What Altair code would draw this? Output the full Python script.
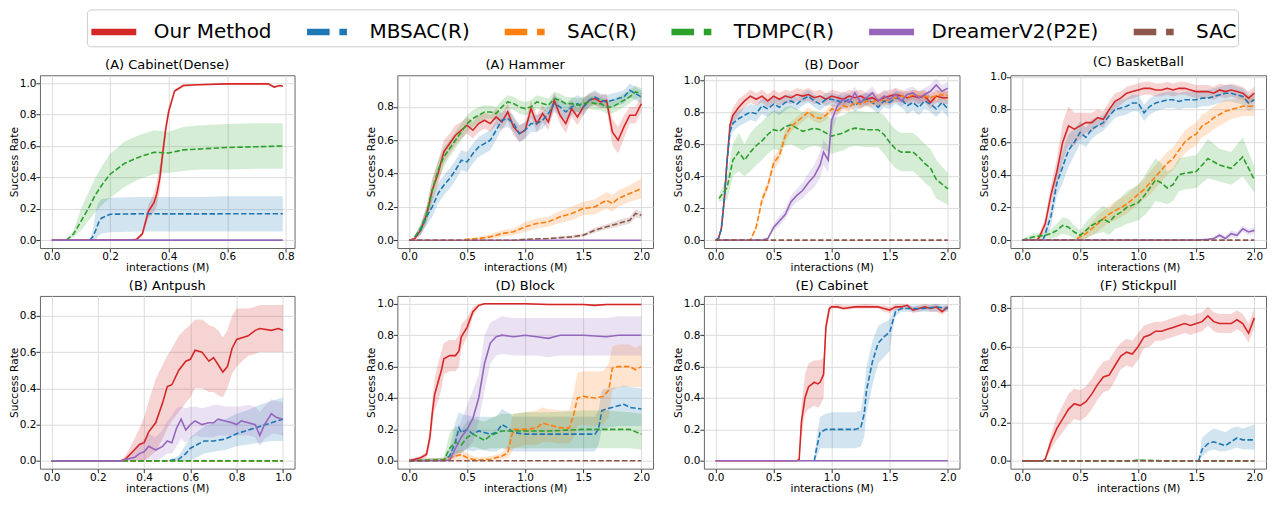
import altair as alt
import pandas as pd

SERIES = ["Our Method", "MBSAC(R)", "SAC(R)", "TDMPC(R)", "DreamerV2(P2E)", "SAC"]
COLORS = ["#d62728", "#1f77b4", "#ff7f0e", "#2ca02c", "#9467bd", "#8c564b"]
DASHED = ["MBSAC(R)", "SAC(R)", "TDMPC(R)", "SAC"]
SOLID_GLYPH = "M-1,0H1.5"
DASH_GLYPH = "M-1,0H0.256M0.8,0H1.222"
GLYPHS = [SOLID_GLYPH, DASH_GLYPH, DASH_GLYPH, DASH_GLYPH, SOLID_GLYPH, DASH_GLYPH]

TICKS_08 = [0.0, 0.2, 0.4, 0.6, 0.8]
TICKS_10 = [0.0, 0.2, 0.4, 0.6, 0.8, 1.0]
TICKS_20 = [0.0, 0.5, 1.0, 1.5, 2.0]

# ---- (A) Cabinet(Dense) : points are [x, mean, spread] or [x, mean, low, high]
CABD_OURS = [[0, 0, 0], [0.27, 0, 0], [0.29, 0.005, 0.005], [0.31, 0.04, 0.02], [0.33, 0.18, 0.04],
             [0.35, 0.24, 0.06], [0.36, 0.30, 0.08], [0.37, 0.40, 0.08], [0.38, 0.56, 0.06],
             [0.39, 0.71, 0.04], [0.40, 0.82, 0.03], [0.42, 0.95, 0.01], [0.45, 0.985, 0.01],
             [0.5, 0.99, 0.005], [0.6, 0.995, 0.005], [0.7, 0.995, 0.005], [0.74, 0.995, 0.005],
             [0.76, 0.975, 0.005], [0.78, 0.985, 0.005], [0.79, 0.98, 0.005]]
CABD_MBSAC = [[0.13, 0, 0, 0], [0.14, 0.02, 0.0, 0.06], [0.15, 0.06, 0.0, 0.18], [0.16, 0.11, 0.03, 0.24],
              [0.17, 0.14, 0.04, 0.26], [0.2, 0.165, 0.05, 0.27], [0.3, 0.168, 0.055, 0.275],
              [0.5, 0.167, 0.055, 0.275], [0.6, 0.168, 0.055, 0.28], [0.79, 0.168, 0.055, 0.28]]
CABD_TDMPC = [[0.05, 0.0, 0.0, 0.0], [0.075, 0.04, 0.02, 0.06], [0.1, 0.12, 0.06, 0.2], [0.125, 0.2, 0.12, 0.3],
              [0.15, 0.29, 0.18, 0.4], [0.175, 0.36, 0.23, 0.48], [0.2, 0.42, 0.27, 0.55],
              [0.25, 0.49, 0.34, 0.63], [0.3, 0.53, 0.39, 0.67], [0.35, 0.56, 0.42, 0.70],
              [0.4, 0.555, 0.43, 0.69], [0.45, 0.575, 0.44, 0.72], [0.5, 0.58, 0.45, 0.73],
              [0.6, 0.59, 0.45, 0.74], [0.7, 0.595, 0.455, 0.745], [0.79, 0.60, 0.455, 0.745]]
CABD_DREAMER = [[0, 0, 0], [0.79, 0, 0]]

# ---- (A) Hammer
HAM_OURS = [[0, 0, 0], [0.05, 0.01, 0.01], [0.1, 0.06, 0.03], [0.15, 0.15, 0.05], [0.2, 0.30, 0.07],
            [0.25, 0.40, 0.07], [0.3, 0.53, 0.07], [0.35, 0.58, 0.06], [0.4, 0.63, 0.06], [0.45, 0.66, 0.05],
            [0.5, 0.69, 0.05], [0.55, 0.66, 0.05], [0.6, 0.70, 0.05], [0.65, 0.72, 0.05], [0.7, 0.70, 0.05],
            [0.75, 0.74, 0.05], [0.8, 0.71, 0.05], [0.85, 0.77, 0.05], [0.9, 0.68, 0.05], [0.95, 0.64, 0.05],
            [1.0, 0.66, 0.05], [1.05, 0.79, 0.05], [1.1, 0.70, 0.05], [1.15, 0.76, 0.05], [1.2, 0.71, 0.05],
            [1.25, 0.84, 0.05], [1.3, 0.75, 0.05], [1.35, 0.70, 0.06], [1.4, 0.79, 0.05], [1.45, 0.74, 0.05],
            [1.5, 0.80, 0.05], [1.55, 0.84, 0.04], [1.6, 0.85, 0.04], [1.65, 0.83, 0.04], [1.7, 0.84, 0.04],
            [1.75, 0.65, 0.08], [1.8, 0.60, 0.08], [1.85, 0.68, 0.07], [1.9, 0.75, 0.05], [1.95, 0.75, 0.05],
            [2.0, 0.82, 0.05]]
HAM_MBSAC = [[0.05, 0.02, 0.01], [0.1, 0.06, 0.03], [0.15, 0.14, 0.05], [0.2, 0.20, 0.06], [0.25, 0.28, 0.06],
             [0.3, 0.33, 0.06], [0.35, 0.37, 0.06], [0.4, 0.42, 0.06], [0.45, 0.48, 0.06], [0.5, 0.47, 0.06],
             [0.55, 0.52, 0.06], [0.6, 0.56, 0.06], [0.65, 0.58, 0.06], [0.7, 0.60, 0.06], [0.75, 0.66, 0.06],
             [0.8, 0.72, 0.05], [0.85, 0.73, 0.05], [0.9, 0.70, 0.05], [0.95, 0.64, 0.05], [1.0, 0.66, 0.05],
             [1.05, 0.70, 0.05], [1.1, 0.70, 0.05], [1.15, 0.72, 0.05], [1.2, 0.76, 0.05], [1.25, 0.82, 0.05],
             [1.3, 0.80, 0.05], [1.35, 0.77, 0.05], [1.4, 0.80, 0.05], [1.45, 0.82, 0.05], [1.5, 0.80, 0.05],
             [1.55, 0.84, 0.04], [1.6, 0.86, 0.04], [1.65, 0.84, 0.04], [1.7, 0.83, 0.04], [1.75, 0.84, 0.04],
             [1.8, 0.85, 0.04], [1.85, 0.86, 0.04], [1.9, 0.90, 0.04], [1.95, 0.88, 0.04], [2.0, 0.86, 0.04]]
HAM_SACR = [[0, 0, 0], [0.45, 0, 0], [0.5, 0.005, 0.005], [0.6, 0.01, 0.01], [0.7, 0.02, 0.015],
            [0.8, 0.04, 0.02], [0.9, 0.05, 0.02], [1.0, 0.08, 0.03], [1.1, 0.10, 0.03], [1.2, 0.11, 0.03],
            [1.3, 0.14, 0.035], [1.4, 0.16, 0.04], [1.5, 0.19, 0.04], [1.6, 0.20, 0.045], [1.7, 0.24, 0.05],
            [1.75, 0.22, 0.05], [1.8, 0.25, 0.05], [1.9, 0.28, 0.05], [2.0, 0.31, 0.06]]
HAM_TDMPC = [[0.05, 0.02, 0.01], [0.1, 0.07, 0.03], [0.15, 0.15, 0.05], [0.2, 0.30, 0.06], [0.25, 0.42, 0.06],
             [0.3, 0.50, 0.06], [0.35, 0.55, 0.05], [0.4, 0.60, 0.05], [0.45, 0.65, 0.05], [0.5, 0.70, 0.05],
             [0.55, 0.73, 0.05], [0.6, 0.75, 0.05], [0.65, 0.77, 0.04], [0.7, 0.77, 0.04], [0.75, 0.76, 0.04],
             [0.8, 0.80, 0.04], [0.85, 0.83, 0.04], [0.9, 0.82, 0.04], [0.95, 0.80, 0.04], [1.0, 0.79, 0.04],
             [1.05, 0.80, 0.04], [1.1, 0.83, 0.04], [1.15, 0.82, 0.04], [1.2, 0.81, 0.04], [1.25, 0.85, 0.04],
             [1.3, 0.84, 0.04], [1.35, 0.82, 0.04], [1.4, 0.82, 0.04], [1.45, 0.81, 0.04], [1.5, 0.82, 0.04],
             [1.55, 0.83, 0.04], [1.6, 0.82, 0.04], [1.65, 0.82, 0.04], [1.7, 0.80, 0.04], [1.75, 0.80, 0.04],
             [1.8, 0.82, 0.04], [1.85, 0.84, 0.04], [1.9, 0.86, 0.04], [1.95, 0.89, 0.04], [2.0, 0.88, 0.03]]
HAM_DREAMER = [[0, 0, 0], [2.0, 0, 0]]
HAM_SAC = [[0, 0, 0], [0.9, 0, 0], [1.0, 0.005, 0.003], [1.2, 0.01, 0.005], [1.4, 0.02, 0.01],
           [1.5, 0.03, 0.01], [1.6, 0.06, 0.015], [1.7, 0.08, 0.015], [1.8, 0.10, 0.02], [1.9, 0.12, 0.02],
           [1.95, 0.16, 0.025], [2.0, 0.15, 0.02]]

# ---- (B) Door
DOOR_OURS = [[0, 0, 0], [0.025, 0.01, 0.01], [0.05, 0.07, 0.02], [0.075, 0.25, 0.04], [0.1, 0.50, 0.05],
             [0.125, 0.72, 0.05], [0.15, 0.78, 0.05], [0.2, 0.83, 0.05], [0.25, 0.87, 0.04], [0.3, 0.90, 0.04],
             [0.35, 0.88, 0.04], [0.4, 0.90, 0.04], [0.45, 0.87, 0.04], [0.5, 0.90, 0.04], [0.55, 0.88, 0.04],
             [0.6, 0.90, 0.04], [0.65, 0.89, 0.04], [0.7, 0.91, 0.04], [0.75, 0.90, 0.04], [0.8, 0.91, 0.04],
             [0.85, 0.89, 0.04], [0.9, 0.90, 0.04], [0.95, 0.88, 0.04], [1.0, 0.90, 0.04], [1.05, 0.89, 0.04],
             [1.1, 0.88, 0.04], [1.15, 0.90, 0.04], [1.2, 0.89, 0.04], [1.25, 0.90, 0.04], [1.3, 0.88, 0.04],
             [1.35, 0.89, 0.04], [1.4, 0.87, 0.04], [1.45, 0.89, 0.04], [1.5, 0.90, 0.04], [1.55, 0.91, 0.04],
             [1.6, 0.90, 0.04], [1.65, 0.89, 0.04], [1.7, 0.90, 0.04], [1.75, 0.89, 0.04], [1.8, 0.90, 0.04],
             [1.85, 0.86, 0.04], [1.9, 0.90, 0.04], [1.95, 0.89, 0.04], [2.0, 0.89, 0.04]]
DOOR_MBSAC = [[0, 0, 0], [0.025, 0.01, 0.01], [0.05, 0.07, 0.02], [0.075, 0.25, 0.04], [0.1, 0.5, 0.05],
              [0.125, 0.68, 0.05], [0.15, 0.73, 0.05], [0.2, 0.76, 0.05], [0.25, 0.78, 0.05], [0.3, 0.80, 0.05],
              [0.35, 0.79, 0.05], [0.4, 0.84, 0.05], [0.45, 0.82, 0.05], [0.5, 0.85, 0.05], [0.55, 0.83, 0.05],
              [0.6, 0.86, 0.05], [0.65, 0.87, 0.04], [0.7, 0.85, 0.04], [0.75, 0.88, 0.04], [0.8, 0.90, 0.04],
              [0.85, 0.87, 0.04], [0.9, 0.85, 0.04], [0.95, 0.88, 0.04], [1.0, 0.88, 0.04], [1.05, 0.87, 0.04],
              [1.1, 0.86, 0.04], [1.15, 0.88, 0.04], [1.2, 0.84, 0.04], [1.25, 0.87, 0.04], [1.3, 0.88, 0.04],
              [1.35, 0.86, 0.04], [1.4, 0.83, 0.04], [1.45, 0.87, 0.04], [1.5, 0.86, 0.04], [1.55, 0.89, 0.04],
              [1.6, 0.88, 0.05], [1.65, 0.84, 0.05], [1.7, 0.86, 0.05], [1.75, 0.83, 0.05], [1.8, 0.87, 0.05],
              [1.85, 0.85, 0.05], [1.9, 0.82, 0.05], [1.95, 0.86, 0.05], [2.0, 0.82, 0.05]]
DOOR_SACR = [[0, 0, 0], [0.3, 0, 0], [0.35, 0.08, 0.02], [0.4, 0.25, 0.03], [0.45, 0.34, 0.03], [0.5, 0.48, 0.04],
             [0.55, 0.53, 0.04], [0.6, 0.65, 0.04], [0.65, 0.71, 0.03], [0.7, 0.74, 0.03], [0.75, 0.77, 0.03],
             [0.8, 0.80, 0.03], [0.85, 0.77, 0.03], [0.9, 0.76, 0.03], [0.95, 0.78, 0.03], [1.0, 0.82, 0.03],
             [1.05, 0.81, 0.03], [1.1, 0.84, 0.03], [1.15, 0.83, 0.03], [1.2, 0.86, 0.03], [1.25, 0.85, 0.03],
             [1.3, 0.87, 0.03], [1.35, 0.86, 0.03], [1.4, 0.88, 0.03], [1.45, 0.87, 0.03], [1.5, 0.88, 0.03],
             [1.55, 0.89, 0.03], [1.6, 0.90, 0.03], [1.65, 0.89, 0.03], [1.7, 0.91, 0.03], [1.75, 0.90, 0.03],
             [1.8, 0.90, 0.03], [1.85, 0.89, 0.03], [1.9, 0.90, 0.03], [1.95, 0.91, 0.03], [2.0, 0.90, 0.03]]
DOOR_TDMPC = [[0.03, 0.26, 0.02], [0.1, 0.33, 0.08], [0.15, 0.50, 0.1], [0.2, 0.55, 0.12], [0.25, 0.50, 0.1],
              [0.3, 0.55, 0.12], [0.35, 0.59, 0.12], [0.4, 0.62, 0.12], [0.45, 0.66, 0.12], [0.5, 0.69, 0.12],
              [0.55, 0.68, 0.12], [0.6, 0.71, 0.12], [0.65, 0.72, 0.12], [0.7, 0.70, 0.12], [0.75, 0.68, 0.12],
              [0.8, 0.69, 0.11], [0.85, 0.70, 0.11], [0.9, 0.69, 0.11], [0.95, 0.67, 0.11], [1.0, 0.65, 0.11],
              [1.05, 0.66, 0.11], [1.1, 0.67, 0.11], [1.15, 0.69, 0.11], [1.2, 0.70, 0.11], [1.3, 0.69, 0.11],
              [1.4, 0.69, 0.11], [1.45, 0.66, 0.12], [1.5, 0.61, 0.12], [1.55, 0.57, 0.12], [1.6, 0.55, 0.12],
              [1.7, 0.55, 0.12], [1.75, 0.52, 0.12], [1.8, 0.48, 0.12], [1.85, 0.45, 0.12], [1.9, 0.38, 0.12],
              [1.95, 0.35, 0.11], [2.0, 0.32, 0.1]]
DOOR_DREAMER = [[0, 0, 0], [0.4, 0, 0], [0.45, 0.01, 0.01], [0.5, 0.08, 0.02], [0.55, 0.12, 0.03],
                [0.6, 0.16, 0.03], [0.65, 0.24, 0.04], [0.7, 0.28, 0.04], [0.75, 0.31, 0.05], [0.8, 0.36, 0.06],
                [0.85, 0.40, 0.07], [0.9, 0.47, 0.08], [0.93, 0.55, 0.08], [0.97, 0.50, 0.08], [1.0, 0.75, 0.08],
                [1.05, 0.84, 0.06], [1.1, 0.88, 0.05], [1.15, 0.86, 0.05], [1.2, 0.92, 0.04], [1.25, 0.86, 0.04],
                [1.3, 0.89, 0.04], [1.35, 0.92, 0.04], [1.4, 0.87, 0.04], [1.45, 0.90, 0.04], [1.5, 0.88, 0.04],
                [1.55, 0.91, 0.04], [1.6, 0.87, 0.04], [1.65, 0.91, 0.04], [1.7, 0.92, 0.04], [1.75, 0.89, 0.04],
                [1.8, 0.91, 0.04], [1.85, 0.93, 0.04], [1.9, 0.97, 0.04], [1.95, 0.93, 0.04], [2.0, 0.95, 0.04]]
DOOR_SAC = [[0, 0, 0], [2.0, 0, 0]]

# ---- (C) BasketBall
BB_OURS = [[0, 0, 0], [0.13, 0, 0], [0.15, 0.02, 0.02], [0.2, 0.10, 0.04], [0.25, 0.28, 0.06], [0.3, 0.42, 0.08],
           [0.35, 0.60, 0.12], [0.4, 0.70, 0.12], [0.45, 0.68, 0.1], [0.5, 0.70, 0.08], [0.55, 0.72, 0.06],
           [0.6, 0.72, 0.06], [0.65, 0.75, 0.05], [0.7, 0.74, 0.05], [0.75, 0.80, 0.05], [0.8, 0.85, 0.05],
           [0.85, 0.87, 0.04], [0.9, 0.90, 0.04], [0.95, 0.91, 0.04], [1.0, 0.92, 0.04], [1.05, 0.93, 0.04],
           [1.1, 0.93, 0.04], [1.15, 0.92, 0.04], [1.2, 0.92, 0.04], [1.25, 0.93, 0.04], [1.3, 0.92, 0.04],
           [1.35, 0.93, 0.04], [1.4, 0.93, 0.04], [1.45, 0.92, 0.04], [1.5, 0.91, 0.04], [1.55, 0.91, 0.04],
           [1.6, 0.91, 0.04], [1.65, 0.90, 0.04], [1.7, 0.92, 0.04], [1.75, 0.91, 0.04], [1.8, 0.92, 0.04],
           [1.85, 0.91, 0.04], [1.9, 0.90, 0.04], [1.95, 0.87, 0.04], [2.0, 0.90, 0.04]]
BB_MBSAC = [[0.18, 0, 0], [0.2, 0.04, 0.03], [0.25, 0.15, 0.06], [0.3, 0.35, 0.08], [0.35, 0.45, 0.1],
            [0.4, 0.55, 0.1], [0.45, 0.60, 0.08], [0.5, 0.66, 0.07], [0.55, 0.63, 0.06], [0.6, 0.68, 0.06],
            [0.65, 0.70, 0.05], [0.7, 0.72, 0.05], [0.75, 0.76, 0.05], [0.8, 0.80, 0.05], [0.85, 0.81, 0.05],
            [0.9, 0.82, 0.05], [0.95, 0.84, 0.05], [1.0, 0.84, 0.05], [1.05, 0.78, 0.05], [1.1, 0.82, 0.05],
            [1.15, 0.84, 0.05], [1.2, 0.85, 0.05], [1.25, 0.86, 0.05], [1.3, 0.86, 0.05], [1.35, 0.85, 0.05],
            [1.4, 0.86, 0.05], [1.45, 0.86, 0.05], [1.5, 0.86, 0.05], [1.55, 0.87, 0.05], [1.6, 0.87, 0.05],
            [1.65, 0.88, 0.05], [1.7, 0.89, 0.05], [1.75, 0.90, 0.05], [1.8, 0.90, 0.05], [1.85, 0.89, 0.05],
            [1.9, 0.88, 0.05], [1.95, 0.84, 0.05], [2.0, 0.86, 0.05]]
BB_SACR = [[0, 0, 0], [0.45, 0, 0], [0.5, 0.02, 0.02], [0.55, 0.04, 0.03], [0.6, 0.07, 0.04], [0.65, 0.10, 0.05],
           [0.7, 0.13, 0.05], [0.75, 0.16, 0.05], [0.8, 0.18, 0.06], [0.85, 0.20, 0.06], [0.9, 0.22, 0.06],
           [0.95, 0.25, 0.06], [1.0, 0.28, 0.06], [1.05, 0.31, 0.06], [1.1, 0.35, 0.07], [1.15, 0.39, 0.07],
           [1.2, 0.43, 0.07], [1.25, 0.47, 0.07], [1.3, 0.50, 0.07], [1.35, 0.55, 0.07], [1.4, 0.60, 0.07],
           [1.45, 0.63, 0.07], [1.5, 0.65, 0.07], [1.55, 0.70, 0.07], [1.6, 0.72, 0.07], [1.65, 0.75, 0.07],
           [1.7, 0.77, 0.07], [1.75, 0.79, 0.07], [1.8, 0.80, 0.06], [1.85, 0.81, 0.06], [1.9, 0.82, 0.06],
           [1.95, 0.82, 0.06], [2.0, 0.82, 0.06]]
BB_TDMPC = [[0, 0, 0.005], [0.1, 0.02, 0.02], [0.2, 0.03, 0.02], [0.25, 0.04, 0.03], [0.3, 0.06, 0.04],
            [0.35, 0.09, 0.05], [0.4, 0.08, 0.05], [0.45, 0.05, 0.04], [0.5, 0.03, 0.03], [0.55, 0.06, 0.05],
            [0.6, 0.09, 0.06], [0.65, 0.11, 0.07], [0.7, 0.13, 0.08], [0.75, 0.11, 0.08], [0.8, 0.15, 0.08],
            [0.85, 0.17, 0.09], [0.9, 0.20, 0.1], [1.0, 0.23, 0.11], [1.05, 0.27, 0.12], [1.1, 0.32, 0.13],
            [1.15, 0.37, 0.13], [1.2, 0.35, 0.12], [1.25, 0.32, 0.1], [1.3, 0.34, 0.1], [1.35, 0.40, 0.1],
            [1.4, 0.41, 0.1], [1.5, 0.42, 0.1], [1.6, 0.50, 0.12], [1.7, 0.46, 0.1], [1.8, 0.44, 0.1],
            [1.9, 0.51, 0.12], [2.0, 0.37, 0.08]]
BB_DREAMER = [[0, 0, 0], [1.5, 0, 0], [1.6, 0.005, 0.005], [1.65, 0.01, 0.01], [1.7, 0.03, 0.015],
              [1.75, 0.01, 0.015], [1.8, 0.04, 0.02], [1.85, 0.03, 0.02], [1.9, 0.07, 0.02], [1.95, 0.05, 0.02],
              [2.0, 0.06, 0.02]]
BB_SAC = [[0, 0, 0], [2.0, 0, 0]]

# ---- (B) Antpush
ANT_OURS = [[0, 0, 0, 0], [0.3, 0, 0, 0], [0.32, 0.01, 0, 0.03], [0.35, 0.05, 0, 0.1], [0.38, 0.09, 0, 0.18],
            [0.40, 0.10, 0.0, 0.24], [0.42, 0.16, 0.02, 0.33], [0.45, 0.21, 0.05, 0.45], [0.48, 0.32, 0.12, 0.53],
            [0.50, 0.41, 0.18, 0.58], [0.52, 0.42, 0.22, 0.62], [0.55, 0.50, 0.27, 0.69], [0.58, 0.55, 0.32, 0.73],
            [0.60, 0.56, 0.35, 0.75], [0.62, 0.61, 0.40, 0.78], [0.65, 0.60, 0.40, 0.78], [0.68, 0.55, 0.38, 0.75],
            [0.70, 0.57, 0.38, 0.74], [0.72, 0.53, 0.36, 0.72], [0.74, 0.49, 0.35, 0.68], [0.76, 0.52, 0.40, 0.72],
            [0.78, 0.62, 0.48, 0.80], [0.80, 0.67, 0.52, 0.84], [0.85, 0.69, 0.58, 0.84], [0.88, 0.72, 0.59, 0.85],
            [0.90, 0.73, 0.60, 0.86], [0.95, 0.72, 0.60, 0.86], [0.98, 0.73, 0.60, 0.86], [1.0, 0.72, 0.60, 0.86]]
ANT_MBSAC = [[0, 0, 0, 0], [0.5, 0, 0, 0], [0.55, 0.01, 0.0, 0.03], [0.58, 0.04, 0.0, 0.09],
             [0.60, 0.07, 0.0, 0.13], [0.63, 0.09, 0.02, 0.16], [0.66, 0.11, 0.04, 0.19], [0.70, 0.11, 0.05, 0.21],
             [0.75, 0.12, 0.06, 0.23], [0.80, 0.15, 0.08, 0.26], [0.85, 0.17, 0.09, 0.28], [0.90, 0.19, 0.10, 0.31],
             [0.95, 0.21, 0.11, 0.33], [1.0, 0.23, 0.11, 0.35]]
ANT_SACR = [[0, 0, 0], [1.0, 0, 0]]
ANT_TDMPC = [[0, 0, 0], [1.0, 0, 0]]
ANT_DREAMER = [[0, 0, 0, 0], [0.3, 0, 0, 0], [0.33, 0.01, 0.0, 0.03], [0.36, 0.02, 0.0, 0.06],
               [0.38, 0.04, 0.0, 0.1], [0.40, 0.05, 0.0, 0.12], [0.42, 0.08, 0.01, 0.15], [0.45, 0.06, 0.0, 0.13],
               [0.48, 0.08, 0.02, 0.17], [0.50, 0.11, 0.04, 0.22], [0.52, 0.10, 0.04, 0.25], [0.54, 0.18, 0.08, 0.29],
               [0.56, 0.23, 0.12, 0.30], [0.58, 0.17, 0.10, 0.29], [0.60, 0.20, 0.12, 0.30], [0.62, 0.22, 0.14, 0.30],
               [0.65, 0.20, 0.13, 0.29], [0.68, 0.21, 0.13, 0.30], [0.70, 0.21, 0.13, 0.31], [0.72, 0.23, 0.14, 0.31],
               [0.75, 0.22, 0.14, 0.30], [0.78, 0.21, 0.14, 0.30], [0.80, 0.20, 0.14, 0.30], [0.82, 0.22, 0.14, 0.30],
               [0.85, 0.21, 0.14, 0.31], [0.88, 0.20, 0.13, 0.30], [0.90, 0.14, 0.08, 0.27], [0.92, 0.20, 0.12, 0.30],
               [0.95, 0.26, 0.15, 0.34], [0.97, 0.24, 0.15, 0.33], [1.0, 0.23, 0.14, 0.32]]

# ---- (D) Block
BLK_OURS = [[0, 0.0, 0.01], [0.05, 0.01, 0.01], [0.1, 0.02, 0.01], [0.15, 0.04, 0.02], [0.18, 0.15, 0.06],
            [0.2, 0.30, 0.08], [0.22, 0.42, 0.1], [0.25, 0.50, 0.12], [0.28, 0.58, 0.12], [0.3, 0.65, 0.1],
            [0.35, 0.67, 0.1], [0.4, 0.67, 0.1], [0.43, 0.70, 0.1], [0.45, 0.79, 0.08], [0.5, 0.85, 0.06],
            [0.55, 0.95, 0.03], [0.6, 0.99, 0.01], [0.65, 1.0, 0.005], [1.0, 1.0, 0.005], [1.2, 0.995, 0.005],
            [1.5, 0.995, 0.005], [1.6, 0.99, 0.005], [1.7, 0.995, 0.005], [2.0, 0.995, 0.005]]
BLK_MBSAC = [[0, 0, 0, 0.01], [0.3, 0.005, 0, 0.02], [0.35, 0.03, 0, 0.08], [0.4, 0.12, 0.03, 0.25],
             [0.43, 0.21, 0.06, 0.31], [0.45, 0.18, 0.06, 0.30], [0.5, 0.20, 0.07, 0.29], [0.55, 0.17, 0.06, 0.28],
             [0.6, 0.19, 0.07, 0.28], [0.7, 0.17, 0.06, 0.28], [0.75, 0.18, 0.06, 0.28], [0.8, 0.23, 0.08, 0.33],
             [0.85, 0.21, 0.07, 0.31], [0.9, 0.18, 0.06, 0.28], [1.0, 0.17, 0.06, 0.28], [1.2, 0.17, 0.06, 0.28],
             [1.4, 0.17, 0.06, 0.28], [1.6, 0.17, 0.06, 0.28], [1.63, 0.20, 0.1, 0.32], [1.66, 0.32, 0.2, 0.45],
             [1.7, 0.33, 0.21, 0.46], [1.8, 0.35, 0.22, 0.47], [1.85, 0.36, 0.22, 0.48], [1.9, 0.34, 0.22, 0.47],
             [2.0, 0.33, 0.22, 0.46]]
BLK_SACR = [[0, 0, 0, 0.01], [0.3, 0.005, 0, 0.02], [0.4, 0.03, 0, 0.06], [0.45, 0.04, 0.01, 0.07],
            [0.5, 0.02, 0.0, 0.05], [0.55, 0.01, 0, 0.03], [0.6, 0.005, 0, 0.02], [0.7, 0.01, 0, 0.03],
            [0.8, 0.03, 0.01, 0.05], [0.85, 0.05, 0.02, 0.1], [0.88, 0.15, 0.05, 0.25], [0.9, 0.20, 0.08, 0.30],
            [1.0, 0.20, 0.10, 0.31], [1.1, 0.21, 0.10, 0.32], [1.15, 0.24, 0.12, 0.34], [1.2, 0.23, 0.12, 0.33],
            [1.3, 0.21, 0.11, 0.32], [1.38, 0.21, 0.11, 0.32], [1.42, 0.30, 0.15, 0.45], [1.45, 0.40, 0.22, 0.56],
            [1.5, 0.41, 0.23, 0.57], [1.6, 0.40, 0.22, 0.57], [1.67, 0.41, 0.23, 0.57], [1.72, 0.45, 0.28, 0.62],
            [1.75, 0.59, 0.45, 0.73], [1.8, 0.60, 0.47, 0.74], [1.9, 0.60, 0.47, 0.74], [1.95, 0.58, 0.47, 0.72],
            [2.0, 0.60, 0.47, 0.74]]
BLK_TDMPC = [[0, 0, 0, 0.01], [0.3, 0.005, 0, 0.02], [0.35, 0.08, 0.02, 0.18], [0.4, 0.12, 0.05, 0.22],
             [0.45, 0.10, 0.05, 0.2], [0.5, 0.15, 0.08, 0.25], [0.55, 0.17, 0.09, 0.27], [0.6, 0.15, 0.08, 0.26],
             [0.65, 0.13, 0.07, 0.25], [0.7, 0.16, 0.08, 0.27], [0.8, 0.19, 0.08, 0.3], [0.9, 0.19, 0.08, 0.3],
             [1.0, 0.19, 0.08, 0.31], [1.2, 0.19, 0.08, 0.31], [1.5, 0.20, 0.08, 0.32], [1.7, 0.20, 0.08, 0.32],
             [1.9, 0.20, 0.08, 0.31], [2.0, 0.17, 0.07, 0.3]]
BLK_DREAMER = [[0, 0, 0, 0], [0.3, 0, 0, 0], [0.35, 0.005, 0, 0.02], [0.4, 0.08, 0.02, 0.18],
               [0.45, 0.15, 0.05, 0.25], [0.5, 0.20, 0.08, 0.35], [0.55, 0.27, 0.12, 0.45], [0.6, 0.40, 0.25, 0.55],
               [0.65, 0.62, 0.45, 0.80], [0.7, 0.75, 0.62, 0.88], [0.75, 0.79, 0.67, 0.90], [0.8, 0.80, 0.68, 0.92],
               [0.9, 0.79, 0.67, 0.91], [1.0, 0.80, 0.67, 0.91], [1.1, 0.79, 0.67, 0.91], [1.2, 0.78, 0.66, 0.91],
               [1.3, 0.80, 0.67, 0.91], [1.5, 0.80, 0.67, 0.91], [1.7, 0.79, 0.67, 0.91], [1.8, 0.80, 0.67, 0.92],
               [2.0, 0.80, 0.67, 0.92]]
BLK_SAC = [[0, 0, 0], [2.0, 0, 0]]

# ---- (E) Cabinet
CAB_OURS = [[0, 0, 0, 0], [0.70, 0, 0, 0], [0.72, 0.01, 0, 0.02], [0.74, 0.25, 0.15, 0.35], [0.77, 0.40, 0.3, 0.55],
            [0.8, 0.47, 0.33, 0.62], [0.85, 0.50, 0.35, 0.64], [0.88, 0.49, 0.34, 0.64], [0.9, 0.50, 0.35, 0.64],
            [0.93, 0.55, 0.4, 0.66], [0.95, 0.85, 0.8, 0.9], [0.98, 0.97, 0.95, 0.99], [1.0, 0.98, 0.97, 0.99],
            [1.05, 0.98, 0.97, 1.0], [1.1, 0.97, 0.96, 0.99], [1.2, 0.98, 0.97, 0.99], [1.3, 0.98, 0.97, 1.0],
            [1.4, 0.98, 0.97, 0.99], [1.45, 0.97, 0.95, 0.99], [1.5, 0.96, 0.94, 0.98], [1.55, 0.98, 0.96, 1.0],
            [1.6, 0.98, 0.96, 1.0], [1.65, 0.99, 0.97, 1.0], [1.7, 0.96, 0.94, 0.98], [1.75, 0.97, 0.95, 0.99],
            [1.8, 0.98, 0.96, 1.0], [1.85, 0.97, 0.95, 0.99], [1.9, 0.98, 0.95, 1.0], [1.95, 0.95, 0.93, 0.98],
            [2.0, 0.98, 0.96, 1.0]]
CAB_MBSAC = [[0.85, 0, 0, 0], [0.87, 0.08, 0.02, 0.15], [0.9, 0.18, 0.08, 0.28], [0.95, 0.20, 0.08, 0.30],
             [1.0, 0.20, 0.08, 0.31], [1.1, 0.20, 0.08, 0.31], [1.2, 0.20, 0.08, 0.31], [1.25, 0.21, 0.09, 0.32],
             [1.28, 0.30, 0.15, 0.45], [1.3, 0.45, 0.30, 0.60], [1.35, 0.63, 0.48, 0.76], [1.4, 0.75, 0.62, 0.86],
             [1.45, 0.79, 0.66, 0.88], [1.5, 0.82, 0.7, 0.9], [1.53, 0.90, 0.85, 0.95], [1.55, 0.95, 0.92, 0.98],
             [1.6, 0.97, 0.95, 0.99], [1.7, 0.97, 0.95, 0.99], [1.8, 0.97, 0.95, 0.99], [1.9, 0.98, 0.95, 1.0],
             [2.0, 0.97, 0.95, 0.99]]
CAB_DREAMER = [[0, 0, 0], [2.0, 0, 0]]

# ---- (F) Stickpull
STK_OURS = [[0, 0, 0], [0.18, 0, 0], [0.2, 0.01, 0.01], [0.25, 0.10, 0.04], [0.3, 0.17, 0.06], [0.35, 0.22, 0.07],
            [0.4, 0.27, 0.08], [0.45, 0.30, 0.08], [0.5, 0.29, 0.08], [0.55, 0.31, 0.08], [0.6, 0.35, 0.08],
            [0.65, 0.40, 0.08], [0.7, 0.44, 0.08], [0.75, 0.45, 0.08], [0.8, 0.50, 0.08], [0.85, 0.55, 0.07],
            [0.9, 0.57, 0.07], [0.95, 0.56, 0.07], [1.0, 0.60, 0.07], [1.05, 0.65, 0.06], [1.1, 0.66, 0.06],
            [1.15, 0.68, 0.05], [1.2, 0.68, 0.05], [1.25, 0.69, 0.05], [1.3, 0.70, 0.05], [1.35, 0.71, 0.05],
            [1.4, 0.72, 0.05], [1.45, 0.71, 0.05], [1.5, 0.72, 0.05], [1.55, 0.73, 0.05], [1.6, 0.76, 0.05],
            [1.65, 0.73, 0.05], [1.7, 0.72, 0.05], [1.75, 0.72, 0.05], [1.8, 0.72, 0.05], [1.85, 0.74, 0.05],
            [1.9, 0.72, 0.05], [1.95, 0.67, 0.05], [2.0, 0.75, 0.05]]
STK_MBSAC = [[1.52, 0, 0, 0], [1.55, 0.06, 0.02, 0.12], [1.6, 0.09, 0.05, 0.15], [1.65, 0.10, 0.06, 0.17],
             [1.7, 0.09, 0.05, 0.16], [1.75, 0.08, 0.05, 0.15], [1.8, 0.10, 0.06, 0.17], [1.85, 0.12, 0.07, 0.18],
             [1.9, 0.11, 0.06, 0.17], [1.95, 0.11, 0.06, 0.18], [2.0, 0.11, 0.06, 0.19]]
STK_TDMPC = [[0, 0, 0], [0.95, 0, 0], [1.0, 0.005, 0.005], [1.05, 0.003, 0.003], [1.2, 0, 0], [2.0, 0, 0]]
STK_SAC = [[0, 0, 0], [2.0, 0, 0]]

W1, W2, H = 255, 256, 173

LEGEND = alt.Legend(
    title=None, orient="none", legendX=47, legendY=-66, direction="horizontal", columns=6,
    symbolType="stroke", symbolSize=1296, symbolStrokeWidth=6.5, symbolOpacity=1,
    symbolFillColor="transparent", titlePadding=0,
    labelFontSize=20, labelFont="DejaVu Sans", labelColor="black", labelOffset=23, labelLimit=400,
    columnPadding=21, padding=1, strokeColor="#cccccc", cornerRadius=4, fillColor="white",
)


def panel(title, series, xdom, ydom, xticks, yticks, width):
    rows = []
    for name, pts in series:
        for p in pts:
            if len(p) == 3:
                x, y, s = p
                lo, hi = y - s, y + s
            else:
                x, y, lo, hi = p
            rows.append({"series": name, "x": x, "y": y, "lo": lo, "hi": hi})
    df = pd.DataFrame(rows)
    cscale = alt.Scale(domain=SERIES, range=COLORS)
    color_key = alt.Color("series:N", scale=cscale, legend=LEGEND, sort=SERIES)
    color = alt.Color("series:N", scale=cscale, legend=None, sort=SERIES)
    shape = alt.Shape("series:N", scale=alt.Scale(domain=SERIES, range=GLYPHS), legend=LEGEND, sort=SERIES)
    xs = alt.Scale(domain=xdom, nice=False, zero=False)
    ys = alt.Scale(domain=ydom, nice=False, zero=False)
    xaxis = alt.Axis(values=xticks, format=".1f", title="interactions (M)")
    yaxis = alt.Axis(values=yticks, format=".1f", title="Success Rate")
    base = alt.Chart(df)
    keys = base.mark_point(filled=False, strokeWidth=6.5).encode(
        x=alt.X("x:Q", scale=xs, axis=xaxis),
        y=alt.Y("y:Q", scale=ys, axis=yaxis),
        color=color_key,
        shape=shape,
    ).transform_filter("datum.x < -100")
    band = base.mark_area(opacity=0.2, clip=True).encode(
        x=alt.X("x:Q", scale=xs, axis=xaxis),
        y=alt.Y("lo:Q", scale=ys, axis=yaxis, stack=None),
        y2="hi:Q",
        color=color,
    )
    layers = [keys, band]
    for name, _ in sorted(series, key=lambda s: SERIES.index(s[0])):
        style = {"strokeWidth": 1.6, "clip": True}
        if name in DASHED:
            style["strokeDash"] = [5.5, 2.4]
        layers.append(
            base.transform_filter(alt.datum.series == name).mark_line(**style).encode(
                x=alt.X("x:Q", scale=xs, axis=xaxis),
                y=alt.Y("y:Q", scale=ys, axis=yaxis),
                color=color,
            )
        )
    return alt.layer(*layers).properties(
        width=width, height=H,
        title=alt.TitleParams(title, fontSize=13, fontWeight="normal", font="DejaVu Sans", offset=3, color="black"),
    )


p1 = panel("(A) Cabinet(Dense)", [("Our Method", CABD_OURS), ("MBSAC(R)", CABD_MBSAC), ("TDMPC(R)", CABD_TDMPC),
                                  ("DreamerV2(P2E)", CABD_DREAMER)],
           [-0.04, 0.83], [-0.05, 1.05], TICKS_08, TICKS_10, W1)
p2 = panel("(A) Hammer", [("Our Method", HAM_OURS), ("MBSAC(R)", HAM_MBSAC), ("SAC(R)", HAM_SACR),
                          ("TDMPC(R)", HAM_TDMPC), ("DreamerV2(P2E)", HAM_DREAMER), ("SAC", HAM_SAC)],
           [-0.1, 2.1], [-0.047, 0.99], TICKS_20, TICKS_08, W2)
p3 = panel("(B) Door", [("Our Method", DOOR_OURS), ("MBSAC(R)", DOOR_MBSAC), ("SAC(R)", DOOR_SACR),
                        ("TDMPC(R)", DOOR_TDMPC), ("DreamerV2(P2E)", DOOR_DREAMER), ("SAC", DOOR_SAC)],
           [-0.1, 2.1], [-0.049, 1.03], TICKS_20, TICKS_10, W2)
p4 = panel("(C) BasketBall", [("Our Method", BB_OURS), ("MBSAC(R)", BB_MBSAC), ("SAC(R)", BB_SACR),
                              ("TDMPC(R)", BB_TDMPC), ("DreamerV2(P2E)", BB_DREAMER), ("SAC", BB_SAC)],
           [-0.1, 2.1], [-0.048, 1.01], TICKS_20, TICKS_10, W2)
p5 = panel("(B) Antpush", [("Our Method", ANT_OURS), ("MBSAC(R)", ANT_MBSAC), ("SAC(R)", ANT_SACR),
                           ("TDMPC(R)", ANT_TDMPC), ("DreamerV2(P2E)", ANT_DREAMER)],
           [-0.05, 1.05], [-0.043, 0.91], TICKS_10, TICKS_08, W1)
p6 = panel("(D) Block", [("Our Method", BLK_OURS), ("MBSAC(R)", BLK_MBSAC), ("SAC(R)", BLK_SACR),
                         ("TDMPC(R)", BLK_TDMPC), ("DreamerV2(P2E)", BLK_DREAMER), ("SAC", BLK_SAC)],
           [-0.1, 2.1], [-0.05, 1.05], TICKS_20, TICKS_10, W2)
p7 = panel("(E) Cabinet", [("Our Method", CAB_OURS), ("MBSAC(R)", CAB_MBSAC), ("DreamerV2(P2E)", CAB_DREAMER)],
           [-0.1, 2.1], [-0.05, 1.05], TICKS_20, TICKS_10, W2)
p8 = panel("(F) Stickpull", [("Our Method", STK_OURS), ("MBSAC(R)", STK_MBSAC), ("TDMPC(R)", STK_TDMPC),
                             ("SAC", STK_SAC)],
           [-0.1, 2.1], [-0.041, 0.865], TICKS_20, TICKS_08, W2)

row1 = alt.hconcat(p1, alt.hconcat(p2, p3, p4, spacing=18), spacing=70)
row2 = alt.hconcat(p5, alt.hconcat(p6, p7, p8, spacing=18), spacing=70)

chart = alt.vconcat(row1, row2, spacing=5).properties(padding=0).configure_view(
    stroke="#666666", strokeWidth=1
).configure_axis(
    labelFont="DejaVu Sans", labelFontSize=10.5, labelColor="black",
    titleFont="DejaVu Sans", titleFontSize=10.6, titleFontWeight="normal", titleColor="black",
    tickColor="#333333", tickSize=4, labelPadding=0, titlePadding=0,
    domain=False, gridColor="#dcdcdc", gridWidth=1,
)

chart.save("out.html", embed_options={"renderer": "svg", "actions": False})
